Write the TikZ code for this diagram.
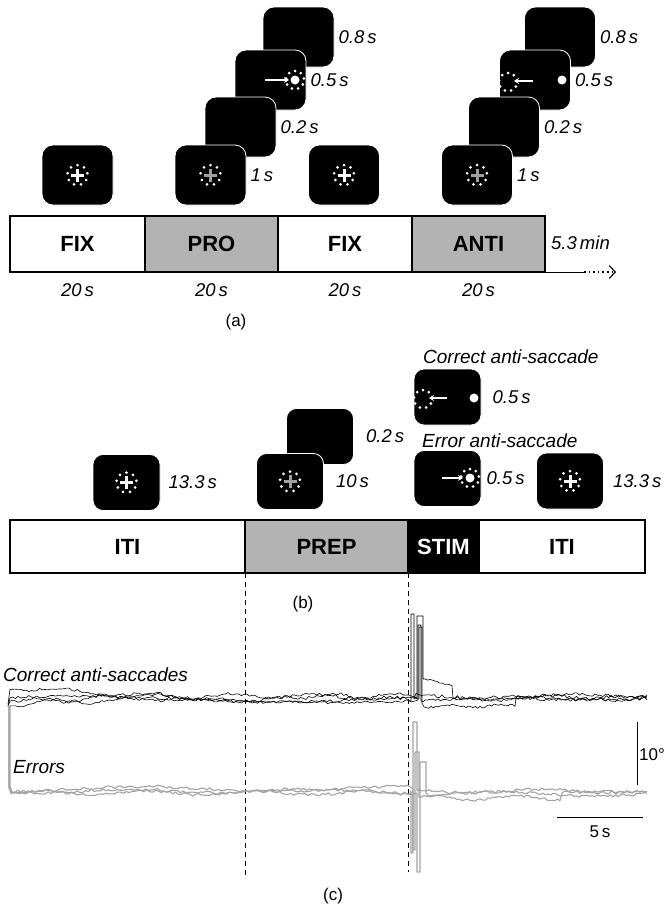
\documentclass[tikz,border=0pt]{standalone}
\usepackage{fontspec}
\setmainfont{Liberation Sans}
\usepackage{tikz}
\usetikzlibrary{positioning,arrows.meta,calc}
\definecolor{cPanel}{HTML}{B3B3B3}
\definecolor{cErr}{HTML}{A3A3A3}
\definecolor{cCue}{HTML}{A0A0A0}
\newcommand\fsz[1]{\fontsize{#1}{#1}\selectfont}
\newcommand\dotring[2][10]{%
  \foreach \a in {10,50,...,330} \fill[white] ($(#2)+(\a:#1pt)$) circle (1.5pt);}
\newcommand\fixcross[2]{%
  \draw[#2, line width=3pt] ($(#1)+(-6.5pt,0pt)$) -- ($(#1)+(6.5pt,0pt)$);
  \draw[#2, line width=3pt] ($(#1)+(0pt,-6.5pt)$) -- ($(#1)+(0pt,6.5pt)$);
  \dotring{#1}}

\begin{document}
\begin{tikzpicture}[
  x=1pt, y=-1pt,
  >={Stealth[length=5pt,width=6pt]},
  screen/.style={draw=white, line width=0.8pt, fill=black, rounded corners=11pt,
                 minimum width=71pt, minimum height=60pt, inner sep=0pt},
  bscreen/.style={screen, minimum width=67pt, minimum height=56pt, rounded corners=10pt},
  seg/.style={draw=black, line width=1.6pt, inner sep=0pt, outer sep=0pt,
              font=\fsz{22}\bfseries},
  dur/.style={font=\fsz{18.5}\itshape, inner sep=0pt},
  panel/.style={font=\fsz{17}, inner sep=0pt},
  caption/.style={font=\fsz{19}\itshape, inner sep=0pt, anchor=west},
  gaze/.style={->, white, line width=1.6pt},
  trace/.style={black, line width=0.6pt, line join=round},
  etrace/.style={cErr, line width=1.1pt, line join=round},
  bar/.style={black, line width=0.9pt},
]
\useasboundingbox (0,0) rectangle (665,916);
\pgfmathsetseed{7}

% ---- (a) screens
\node[screen] (scrFixA) at (77.5,175) {};
\fixcross{scrFixA.center}{white}

\node[screen] (scrProD) at (298.5,37) {};
\node[dur, right=4pt of scrProD] (tProD) {0.8\,s};
\node[screen] (scrProC) at (270.5,80) {};
\coordinate (dotP) at (295,80);
\coordinate (fromP) at (265,80);
\coordinate (toP) at (289,80);
\draw[gaze] (fromP) -- (toP);
\fill[white] (dotP) circle (4.5pt);
\dotring[9]{dotP}
\node[dur, right=4pt of scrProC] (tProC) {0.5\,s};
\node[screen] (scrProB) at (240.5,127) {};
\node[dur, right=4pt of scrProB] (tProB) {0.2\,s};
\node[screen] (scrProA) at (210.5,175) {};
\fixcross{scrProA.center}{cCue}
\node[dur, right=4pt of scrProA] (tProA) {1\,s};

\node[screen] (scrFixB) at (344,175) {};
\fixcross{scrFixB.center}{white}

\node[screen] (scrAntiD) at (560,37) {};
\node[dur, right=4pt of scrAntiD] (tAntiD) {0.8\,s};
\node[screen] (scrAntiC) at (535,80) {};
\coordinate (ringN) at (508,82);
\coordinate (fromN) at (533,81);
\coordinate (toN) at (514,81);
\coordinate (dotN) at (562,80);
\dotring[9]{ringN}
\draw[gaze] (fromN) -- (toN);
\fill[white] (dotN) circle (4.5pt);
\node[dur, right=4pt of scrAntiC] (tAntiC) {0.5\,s};
\node[screen] (scrAntiB) at (504,127) {};
\node[dur, right=4pt of scrAntiB] (tAntiB) {0.2\,s};
\node[screen] (scrAntiA) at (477,175) {};
\fixcross{scrAntiA.center}{cCue}
\node[dur, right=4pt of scrAntiA] (tAntiA) {1\,s};

% ---- (a) block sequence
\node[seg, minimum width=135pt, minimum height=56pt] (segFixA) at (77.5,244) {FIX};
\node[seg, fill=cPanel, minimum width=133pt, minimum height=56pt] (segPro) at (211.5,244) {PRO};
\node[seg, minimum width=134pt, minimum height=56pt] (segFixB) at (345,244) {FIX};
\node[seg, fill=cPanel, minimum width=133pt, minimum height=56pt] (segAnti) at (478.5,244) {ANTI};
\node[dur] (dFixA) at (77.5,290) {20\,s};
\node[dur] (dPro) at (211.5,290) {20\,s};
\node[dur] (dFixB) at (345,290) {20\,s};
\node[dur] (dAnti) at (478.5,290) {20\,s};
\node[dur, anchor=west] (tTotal) at (551,243) {5.3\,min};
\coordinate (dotA) at (584,272);
\coordinate (tipA) at (616,272);
\draw[line width=1pt] (segAnti.south east) -- (dotA);
\draw[line width=1.6pt, dash pattern=on 1.6pt off 3pt, -{Straight Barb[length=6pt,width=13pt,line width=1.1pt]}] (dotA) -- (tipA);
\node[panel] (capA) at (236,322) {(a)};

% ---- (b) event-related trial
\node[caption] (lblCorr) at (423,357) {Correct anti-saccade};
\node[caption] (lblErr) at (422,441) {Error anti-saccade};

\node[bscreen] (scrItiA) at (126.5,482.5) {};
\fixcross{scrItiA.center}{white}
\node[dur, right=8pt of scrItiA] (tItiA) {13.3\,s};
\node[bscreen] (scrPrepB) at (320,436.5) {};
\node[dur, right=12pt of scrPrepB] (tPrepB) {0.2\,s};
\node[bscreen] (scrPrepA) at (290,481.5) {};
\fixcross{scrPrepA.center}{cCue}
\node[dur, right=12pt of scrPrepA] (tPrepA) {10\,s};

\node[bscreen] (scrCorr) at (447.5,397) {};
\coordinate (ringC) at (423,399);
\coordinate (fromC) at (447,398);
\coordinate (toC) at (429,398);
\coordinate (dotC) at (474,398);
\dotring[9]{ringC}
\draw[gaze] (fromC) -- (toC);
\fill[white] (dotC) circle (4.5pt);
\node[dur, right=11pt of scrCorr] (tCorr) {0.5\,s};

\node[bscreen] (scrErr) at (447.5,478.5) {};
\coordinate (fromE) at (442,478);
\coordinate (toE) at (463,478);
\coordinate (dotE) at (470,478);
\draw[gaze] (fromE) -- (toE);
\fill[white] (dotE) circle (4.5pt);
\dotring[9]{dotE}
\node[dur, right=5pt of scrErr] (tErr) {0.5\,s};

\node[bscreen] (scrItiB) at (570,481) {};
\fixcross{scrItiB.center}{white}
\node[dur, right=9pt of scrItiB] (tItiB) {13.3\,s};

\node[seg, minimum width=235pt, minimum height=53pt] (segItiA) at (127.5,546.5) {ITI};
\node[seg, fill=cPanel, minimum width=163pt, minimum height=53pt] (segPrep) at (326.5,546.5) {PREP};
\node[seg, fill=black, text=white, minimum width=71pt, minimum height=53pt] (segStim) at (443.5,546.5) {STIM};
\node[seg, minimum width=166pt, minimum height=53pt] (segItiB) at (562,546.5) {ITI};
\coordinate (endPrep) at (245,877);
\coordinate (endStim) at (408,872);
\draw[line width=0.8pt, dash pattern=on 5pt off 4pt] (segPrep.south west) -- (endPrep);
\draw[line width=0.8pt, dash pattern=on 5pt off 4pt] (segStim.south west) -- (endStim);
\node[panel] (capB) at (303,604) {(b)};

% ---- (c) eye traces
\node[caption] (lblCorrTr) at (3,675) {Correct anti-saccades};
\node[caption] (lblErrTr) at (13,767) {Errors};

\draw[trace] (8,706) -- plot[domain=10:411, samples=150] (\x,{698+2.5*sin(1.9*\x)+2*sin(6.1*\x+30)+1.6*rand})
  -- (411,614) -- (414,614) -- (414,699)
  -- plot[domain=416:647, samples=90] (\x,{697+2.5*sin(2.3*\x+50)-3*max(0,(\x-560)/87)+1.6*rand});
\draw[trace] (8,704) -- plot[domain=10:411, samples=150] (\x,{696-9*max(0,1-\x/150)+2*sin(4.3*\x)+1.5*rand})
  -- (417,698) -- (417,616) -- (423,616) -- (423,679)
  -- plot[domain=425:452, samples=12] (\x,{679+0.25*(\x-425)+0.8*rand})
  -- (453,698) -- plot[domain=455:647, samples=80] (\x,{698+2*sin(3.1*\x)+1.8*rand});
\draw[trace] (8,707) -- plot[domain=10:411, samples=150] (\x,{701+4*max(0,1-\x/220)*sin(5*\x)+1.5*sin(1.1*\x+80)+1.3*rand})
  -- (418,700) -- (418,625) -- (421,625) -- (421,701)
  -- plot[domain=423:647, samples=90] (\x,{699+2*sin(1.7*\x+120)-2*max(0,(\x-580)/67)+1.5*rand});
\draw[trace] (8,706) -- plot[domain=10:411, samples=150] (\x,{699+3*sin(0.9*\x+200)+1.4*rand})
  -- (419,699) -- (419,627) -- (422,627) -- (422,703)
  -- plot[domain=424:515, samples=40] (\x,{706+1.5*sin(7*\x)+1.2*rand}) -- (516,698)
  -- plot[domain=518:647, samples=55] (\x,{698+2*sin(2.7*\x+10)+1.6*rand});

\draw[etrace] (9,705) -- (9,788) -- plot[domain=11:410, samples=140] (\x,{791+2*sin(2*\x+15)+1.5*rand})
  -- (411,791) -- (411,853) -- (413,853) -- (413,722) -- (417,722) -- (417,791)
  -- plot[domain=419:647, samples=90] (\x,{791+1.8*sin(2.5*\x)+1.4*rand});
\draw[etrace] (10,707) -- (10,786) -- plot[domain=12:410, samples=140] (\x,{789+2.5*sin(1.4*\x+70)+1.5*rand})
  -- (413,789) -- (413,850) -- (415,850) -- (415,752) -- (419,752) -- (419,797)
  -- plot[domain=421:560, samples=55] (\x,{798+2*sin(4*\x)+1.2*rand})
  -- plot[domain=562:647, samples=35] (\x,{792+1.5*rand});
\draw[etrace] (9,706) -- (9,787) -- plot[domain=11:412, samples=140] (\x,{793+2*sin(3.3*\x+140)+1.4*rand})
  -- (417,793) -- (417,872) -- (420,872) -- (420,762) -- (426,762) -- (426,793)
  -- plot[domain=428:647, samples=85] (\x,{794+2.2*sin(1.9*\x+40)+1.4*rand});

% scale bars
\coordinate (sbTop) at (637,722);
\coordinate (sbBot) at (637,785);
\draw[bar] (sbTop) -- (sbBot);
\node[font=\fsz{17}, anchor=west, inner sep=0pt] (sbV) at (639,755) {10°};
\coordinate (sbL) at (557,817);
\coordinate (sbR) at (643,817);
\draw[bar] (sbL) -- (sbR);
\node[font=\fsz{17}, inner sep=0pt] (sbH) at (600,832) {5\,s};

\node[panel] (capC) at (333,896) {(c)};
\end{tikzpicture}
\end{document}
